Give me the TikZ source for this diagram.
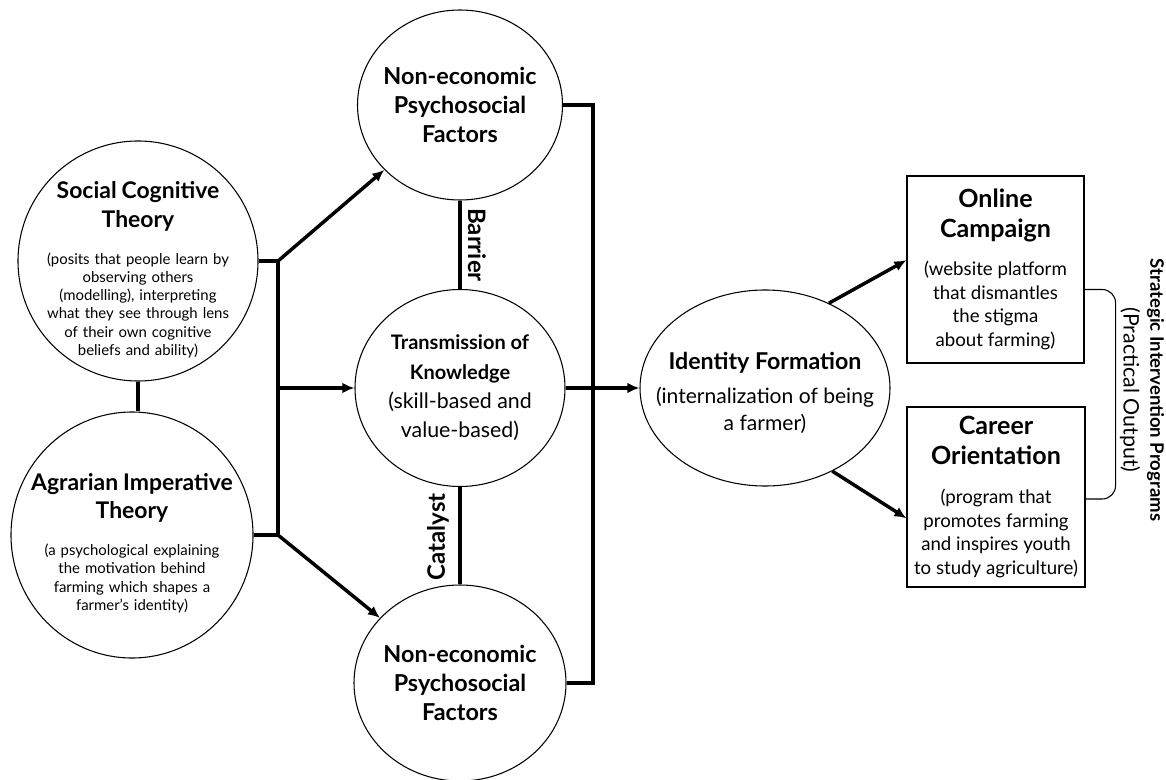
\documentclass[tikz,border=0pt]{standalone}
\usepackage{fontspec}
\setmainfont{Lato}
\usetikzlibrary{shapes.geometric, arrows.meta}

\newcommand{\hd}{\fontsize{17.2}{20}\selectfont\bfseries}
\newcommand{\bx}{\fontsize{18.8}{22}\selectfont\bfseries}

\begin{document}
\begin{tikzpicture}[x=0.75pt, y=-0.75pt,
  bubble/.style={draw, ellipse, line width=0.8pt, inner sep=-40pt, align=center},
  panel/.style={draw, rectangle, line width=0.8pt, inner sep=0pt, align=center},
  link/.style={line width=2.6pt},
  flow/.style={line width=2.6pt, -{Latex[length=9pt, width=8pt]}},
  tag/.style={font=\fontsize{18}{20}\selectfont\bfseries}]

\useasboundingbox (0,0) rectangle (1166,780);

% theories
\node[bubble, minimum width=180pt, minimum height=180pt, text width=170pt, font=\fontsize{11.2}{13.7}\selectfont] (sct) at (138,261)
  {{\hd\rule{0pt}{26pt}Social Cognitive}\\[4.4pt]{\hd Theory}\\[14pt] (posits that people learn by\\ observing others\\ (modelling), interpreting\\ what they see through lens\\ of their own cognitive\\ beliefs and ability)};
\node[bubble, minimum width=181.5pt, minimum height=184.5pt, text width=170pt, font=\fontsize{11.2}{13.7}\selectfont] (ait) at (132,535)
  {{\hd\rule{0pt}{25pt}Agrarian Imperative}\\[4.4pt]{\hd Theory}\\[14pt] (a psychological explaining\\ the motivation behind\\ farming which shapes a\\ farmer's identity)};

% middle column
\node[bubble, minimum width=153.75pt, minimum height=142.5pt, font=\fontsize{17.5}{22}\selectfont\bfseries] (npftop) at (460,105)
  {Non-economic\\ Psychosocial\\ Factors};
\node[bubble, minimum width=157.5pt, minimum height=147.75pt, font=\fontsize{16}{22}\selectfont] (tok) at (460,388)
  {{\fontsize{15}{22}\selectfont\bfseries Transmission of}\\{\fontsize{15}{22}\selectfont\bfseries Knowledge}\\ (skill-based and\\ value-based)};
\node[bubble, minimum width=159pt, minimum height=147pt, font=\fontsize{17.5}{22}\selectfont\bfseries] (npfbot) at (460,683)
  {Non-economic\\ Psychosocial\\ Factors};

\node[tag, rotate=-90] (bar) at (477,245) {Barrier};
\node[tag, rotate=90] (cat) at (438,537) {Catalyst};

% identity
\node[bubble, minimum width=187.5pt, minimum height=147pt, font=\fontsize{15.8}{20}\selectfont] (idf) at (765,388)
  {{\fontsize{17.4}{20}\selectfont\bfseries\rule{0pt}{20pt}Identity Formation}\\[6pt] (internalization of being\\ a farmer)};

% programs
\node[panel, minimum width=132.75pt, minimum height=140.25pt, font=\fontsize{14}{17.6}\selectfont] (oc) at (995.5,269.5)
  {{\bx Online}\\[4.9pt]{\bx Campaign}\\[10.9pt] (website platform\\ that dismantles\\ the stigma\\ about farming)};
\node[panel, minimum width=133.5pt, minimum height=135pt, font=\fontsize{14}{17.6}\selectfont] (co) at (996,497)
  {{\bx Career}\\[4.9pt]{\bx Orientation}\\[11.5pt] (program that\\ promotes farming\\ and inspires youth\\ to study agriculture)};

\node[rotate=-90, align=center, font=\fontsize{16}{20}\selectfont] (sip) at (1142,390)
  {{\fontsize{13.9}{20}\selectfont\bfseries Strategic Intervention Programs}\\ (Practical Output)};

% joints
\coordinate (jt) at (278,261);
\coordinate (jm) at (278,388);
\coordinate (jb) at (278,535);
\coordinate (rt) at (593,105);
\coordinate (rb) at (593,683);

% left connectors
\draw[link] (sct.south) -- (sct.south |- ait.north);
\draw[link] (sct.east) -- (jt) -- (jb) -- (ait.east);
\draw[flow] (jt) -- (npftop);
\draw[flow] (jm) -- (tok);
\draw[flow] (jb) -- (npfbot);

% barrier and catalyst
\draw[link] (npftop.south) -- (tok.north);
\draw[link] (tok.south) -- (npfbot.north);

% right connectors
\draw[link] (npftop.east) -- (rt) -- (rb) -- (npfbot.east);
\draw[flow] (tok.east) -- (idf.west);
\draw[flow] (idf.53) -- ([yshift=7pt]oc.west);
\draw[flow] (idf.-51) -- ([yshift=-16pt]co.west);

% bracket
\draw[line width=0.8pt, rounded corners=10pt] ([yshift=-15pt]oc.east) -- ++(31,0) |- ([yshift=-1.5pt]co.east);

\end{tikzpicture}
\end{document}
